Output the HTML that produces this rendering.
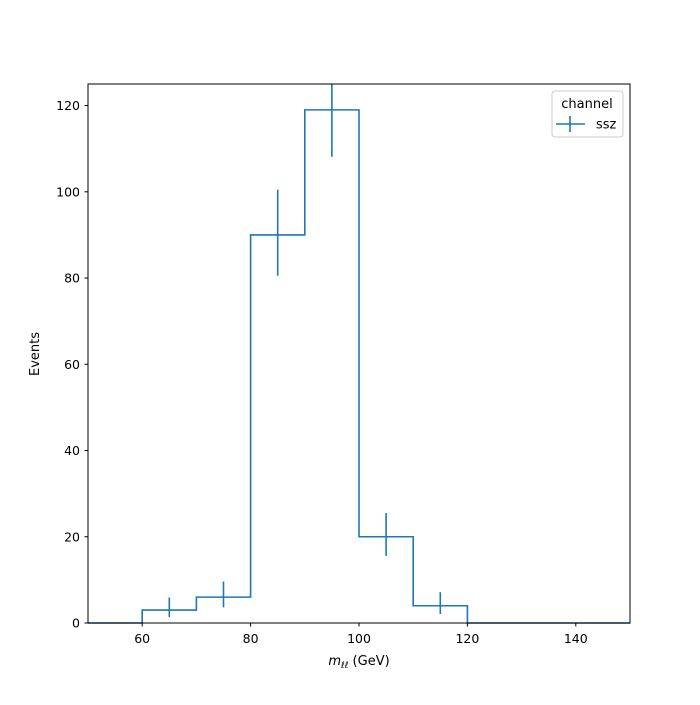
<!DOCTYPE html>
<html><head><meta charset="utf-8"><style>
body{margin:0;background:#fff}
svg{font-family:"DejaVu Sans","Liberation Sans",sans-serif}
</style></head><body>
<svg id="c" width="700" height="700" xmlns="http://www.w3.org/2000/svg">
<rect width="700" height="700" fill="#fff"/>
<g id="plot"></g>
<rect x="88" y="84" width="542" height="539" fill="none" stroke="#000" stroke-width="1"/>
<g id="ticks" font-size="12.5" fill="#000"></g>
<text x="39" y="354" font-size="13" text-anchor="middle" transform="rotate(-90 39 354)">Events</text>
<text x="359" y="665" font-size="13" text-anchor="middle"><tspan font-style="italic">m</tspan><tspan font-style="italic" font-size="9" dy="3">ℓℓ</tspan><tspan dy="-3"> (GeV)</tspan></text>
<g>
<rect x="552" y="91" width="71" height="46" rx="3" fill="#fff" stroke="#ccc"/>
<text x="587" y="108" font-size="13" text-anchor="middle">channel</text>
<line x1="556" y1="124" x2="585" y2="124" stroke="#1f77b4" stroke-width="1.6"/>
<line x1="570" y1="116" x2="570" y2="132" stroke="#1f77b4" stroke-width="1.6"/>
<text x="596" y="128.5" font-size="13">ssz</text>
</g>
</svg>
<script>
const binEdges=[50,60,70,80,90,100,110,120,130,140,150];
const counts=[0,3,6,90,119,20,4,0,0,0];
const errLow=[0,1.63,2.38,9.47,10.88,4.43,1.91,0,0,0];
const errHigh=[0,2.92,3.62,10.51,11.93,5.5,3.16,0,0,0];
const xTicks=[60,80,100,120,140];
const yTicks=[0,20,40,60,80,100,120];
const NS="http://www.w3.org/2000/svg";
const X=v=>88+(v-50)*542/100;
const Y=v=>623-v*539/125;
const plot=document.getElementById('plot');
let d=`M${X(binEdges[0])},${Y(counts[0])}`;
for(let i=0;i<counts.length;i++){
  d+=` L${X(binEdges[i])},${Y(counts[i])} L${X(binEdges[i+1])},${Y(counts[i])}`;
}
const p=document.createElementNS(NS,'path');
p.setAttribute('d',d);p.setAttribute('fill','none');p.setAttribute('stroke','#1f77b4');p.setAttribute('stroke-width','1.6');


plot.appendChild(p);
const cp=document.createElementNS(NS,'clipPath');cp.setAttribute('id','clip');
const cr=document.createElementNS(NS,'rect');cr.setAttribute('x',88);cr.setAttribute('y',84);cr.setAttribute('width',542);cr.setAttribute('height',539);
cp.appendChild(cr);plot.appendChild(cp);
for(let i=0;i<counts.length;i++){
  if(counts[i]<=0)continue;
  const c=(binEdges[i]+binEdges[i+1])/2;
  const l=document.createElementNS(NS,'line');
  l.setAttribute('x1',X(c));l.setAttribute('x2',X(c));
  l.setAttribute('y1',Y(counts[i]-errLow[i]));l.setAttribute('y2',Y(counts[i]+errHigh[i]));
  l.setAttribute('stroke','#1f77b4');l.setAttribute('stroke-width','1.6');l.setAttribute('clip-path','url(#clip)');
  
  
  plot.appendChild(l);
}
const t=document.getElementById('ticks');
xTicks.forEach(v=>{
  const l=document.createElementNS(NS,'line');
  l.setAttribute('x1',X(v));l.setAttribute('x2',X(v));l.setAttribute('y1',623);l.setAttribute('y2',626.5);l.setAttribute('stroke','#000');
  
  
  t.appendChild(l);
  const tx=document.createElementNS(NS,'text');
  tx.setAttribute('x',X(v));tx.setAttribute('y',643);tx.setAttribute('text-anchor','middle');tx.textContent=v;
  
  
  t.appendChild(tx);
});
yTicks.forEach(v=>{
  const l=document.createElementNS(NS,'line');
  l.setAttribute('x1',84.5);l.setAttribute('x2',88);l.setAttribute('y1',Y(v));l.setAttribute('y2',Y(v));l.setAttribute('stroke','#000');
  
  
  t.appendChild(l);
  const tx=document.createElementNS(NS,'text');
  tx.setAttribute('x',80);tx.setAttribute('y',Y(v)+4.5);tx.setAttribute('text-anchor','end');tx.textContent=v;
  
  
  t.appendChild(tx);
});
</script>
</body></html>
